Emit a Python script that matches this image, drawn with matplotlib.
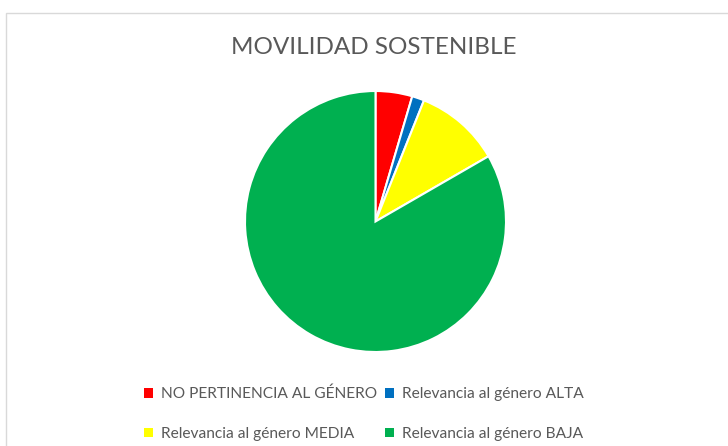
import matplotlib
matplotlib.use('Agg')
import matplotlib.pyplot as plt
from matplotlib.patches import Rectangle, Patch

categorias = ['NO PERTINENCIA AL GÉNERO', 'Relevancia al género ALTA',
              'Relevancia al género MEDIA', 'Relevancia al género BAJA']
valores = [3, 1, 7, 55]
colores = ['#ff0000', '#0070c0', '#ffff00', '#00b050']

plt.rcParams['font.family'] = ['Lato', 'DejaVu Sans']

fig = plt.figure(figsize=(7.28, 4.46), dpi=100)

# marco gris del grafico
fig.patches.append(Rectangle((6 / 728, -0.1), 1.0, (446 - 13) / 446 + 0.1,
                             transform=fig.transFigure, fill=False,
                             edgecolor='#d9d9d9', linewidth=1.0))

ax = fig.add_axes([245 / 728, 94 / 446, 261 / 728, 261 / 446])
ax.pie(valores, colors=colores, startangle=90, counterclock=False,
       wedgeprops=dict(edgecolor='white', linewidth=1.5))
ax.set_xlim(-1, 1)
ax.set_ylim(-1, 1)
ax.set_aspect('equal')

fig.text(374 / 728, 1 - 47 / 446, 'MOVILIDAD SOSTENIBLE', ha='center', va='center',
         fontsize=17.5, color='#595959')

# legend: matplotlib fills by column, so reorder to get Excel's row order
orden = [0, 2, 1, 3]
handles = [Patch(facecolor=colores[i], edgecolor='none') for i in orden]
labels = [categorias[i] for i in orden]
leg = fig.legend(handles, labels, ncol=2, loc='center', bbox_to_anchor=(364 / 728, 1 - 414 / 446),
                 frameon=False, fontsize=11.2, handlelength=0.55, handleheight=0.55,
                 handletextpad=0.5, columnspacing=0.55, labelspacing=1.65,
                 labelcolor='#595959')

fig.savefig('out.png', dpi=100)
